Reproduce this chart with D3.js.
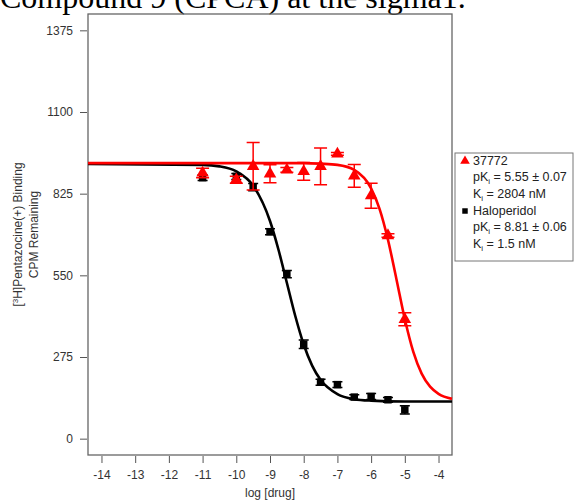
<!DOCTYPE html>
<html>
<head>
<meta charset="utf-8">
<script src="https://cdn.jsdelivr.net/npm/d3@7"></script>
<style>
  body { margin: 0; background: #fff; }
  svg { display: block; font-family: "Liberation Sans", Arial, sans-serif; }
</style>
</head>
<body>
<svg id="chart" width="574" height="502"></svg>
<script>
// log [drug] concentrations used for both compounds
var doses = [-11, -10, -9.5, -9, -8.5, -8, -7.5, -7, -6.5, -6, -5.5, -5];

// 37772 (red triangles)
var cpdMean = [895, 872, 917, 892, 905, 900, 917, 959, 885, 818, 684, 402];
var cpdSem  = [16, 12, 80, 30, 8, 30, 62, 5, 38, 42, 6, 22];

// Haloperidol (black squares)
var haloMean = [879, 883, 847, 697, 554, 318, 190, 182, 140, 142, 131, 97];
var haloSem  = [10, 10, 12, 10, 12, 14, 10, 10, 8, 10, 8, 14];

// fitted curves
var cpdFitX = [-14.4, -8, -7.5, -7, -6.5, -6, -5.75, -5.5, -5.25, -5, -4.75, -4.5, -4.25, -4, -3.6];
var cpdFitY = [928, 928, 926, 922, 905, 843, 774, 670, 538, 403, 293, 219, 175, 151, 134];
var haloFitX = [-14.4, -11, -10.5, -10, -9.5, -9, -8.75, -8.5, -8.25, -8, -7.75, -7.5, -7, -6.5, -6, -5, -3.6];
var haloFitY = [925, 922, 917, 900, 852, 733, 637, 525, 413, 317, 246, 198, 150, 133, 128, 125, 125];

var xTicks = [-14, -13, -12, -11, -10, -9, -8, -7, -6, -5, -4];
var yTicks = [0, 275, 550, 825, 1100, 1375];

var svg = d3.select('#chart');

// box of the plot region
var box = {left: 88, right: 452, top: 14, bottom: 455};

var x = d3.scaleLinear().domain([-14.4, -3.6]).range([box.left, box.right]);
var y = d3.scaleLinear().domain([-55, 1430]).range([box.bottom, box.top]);

// Title, cut off at the top of the picture (as in the source)
svg.append('text')
  .attr('x', 0)
  .attr('y', 8)
  .style('font-family', '"Liberation Serif", "Times New Roman", serif')
  .style('font-size', '32px')
  .attr('fill', '#000')
  .text('Compound 9 (CPCA) at the sigma1.');

// Axes
var yAxis = d3.axisLeft(y).tickValues(yTicks).tickFormat(d => String(d)).tickSize(7).tickPadding(7);
svg.append('g')
  .attr('transform', `translate(${box.left - 1}, 0)`)
  .call(yAxis)
  .call(g => g.select('.domain').remove())
  .call(g => g.selectAll('line').attr('stroke', '#555'))
  .call(g => g.selectAll('text').attr('fill', '#333').style('font-size', '12px'));

var xAxis = d3.axisBottom(x).tickValues(xTicks).tickFormat(d => String(d)).tickSize(7).tickPadding(7);
svg.append('g')
  .attr('transform', `translate(0, ${box.bottom + 1})`)
  .call(xAxis)
  .call(g => g.select('.domain').remove())
  .call(g => g.selectAll('line').attr('stroke', '#555'))
  .call(g => g.selectAll('text').attr('fill', '#333').style('font-size', '12px'));

svg.append('rect')
  .attr('x', box.left)
  .attr('y', box.top)
  .attr('width', box.right - box.left)
  .attr('height', box.bottom - box.top)
  .attr('fill', 'none')
  .attr('stroke', '#666')
  .attr('stroke-width', 1.3);

// Axis titles
svg.append('text')
  .attr('x', (box.left + box.right) / 2)
  .attr('y', 497)
  .attr('text-anchor', 'middle')
  .attr('fill', '#333')
  .style('font-size', '12px')
  .text('log [drug]');

var yt = svg.append('text')
  .attr('transform', `translate(22, ${(box.top + box.bottom) / 2}) rotate(-90)`)
  .attr('text-anchor', 'middle')
  .attr('fill', '#333')
  .style('font-size', '12px');
yt.append('tspan').text('[');
yt.append('tspan').attr('dy', -4).style('font-size', '8px').text('3');
yt.append('tspan').attr('dy', 4).text('H]Pentazocine(+) Binding');
svg.append('text')
  .attr('transform', `translate(38, ${(box.top + box.bottom) / 2}) rotate(-90)`)
  .attr('text-anchor', 'middle')
  .attr('fill', '#333')
  .style('font-size', '12px')
  .text('CPM Remaining');

// Curves
var line = d3.line()
  .curve(d3.curveMonotoneX)
  .x(d => x(d[0]))
  .y(d => y(d[1]));

var plot = svg.append('g');

function drawSeries(fitX, fitY, mean, sem, color, symbol, symSize, capW) {
  var fit = fitX.map((v, i) => [v, fitY[i]]);
  plot.append('path')
    .datum(fit)
    .attr('fill', 'none')
    .attr('stroke', color)
    .attr('stroke-width', 2.6)
    .attr('d', line);

  var pts = doses.map((d, i) => ({x: d, m: mean[i], s: sem[i]}));
  var g = plot.append('g');

  g.selectAll('.bar')
    .data(pts)
    .enter()
    .append('path')
    .attr('class', 'bar')
    .attr('fill', 'none')
    .attr('stroke', color)
    .attr('stroke-width', 1.5)
    .attr('d', d => {
      var cx = x(d.x), y1 = y(d.m + d.s), y2 = y(d.m - d.s);
      return `M${cx - capW / 2},${y1}H${cx + capW / 2}M${cx},${y1}V${y2}M${cx - capW / 2},${y2}H${cx + capW / 2}`;
    });

  g.selectAll('.pt')
    .data(pts)
    .enter()
    .append('path')
    .attr('class', 'pt')
    .attr('fill', color)
    .attr('transform', d => `translate(${x(d.x)}, ${y(d.m)})`)
    .attr('d', d3.symbol().type(symbol).size(symSize));
}

drawSeries(haloFitX, haloFitY, haloMean, haloSem, '#000', d3.symbolSquare, 56, 10);
drawSeries(cpdFitX, cpdFitY, cpdMean, cpdSem, '#ff0000', d3.symbolTriangle, 68, 13);

// Legend
var leg = svg.append('g').style('font-size', '12.5px');
leg.append('rect')
  .attr('x', 455)
  .attr('y', 153)
  .attr('width', 118)
  .attr('height', 108)
  .attr('fill', '#fff')
  .attr('stroke', '#777')
  .attr('stroke-width', 1);

var legendRows = [
  {sym: d3.symbolTriangle, color: '#ff0000', name: '37772', pk: '5.55 \u00b1 0.07', ki: '2804 nM'},
  {sym: d3.symbolSquare, color: '#000', name: 'Haloperidol', pk: '8.81 \u00b1 0.06', ki: '1.5 nM'}
];

legendRows.forEach((r, i) => {
  var top = 165 + i * 50;
  leg.append('path')
    .attr('transform', `translate(465, ${top - 4})`)
    .attr('fill', r.color)
    .attr('d', d3.symbol().type(r.sym).size(r.sym === d3.symbolSquare ? 30 : 40));
  leg.append('text').attr('x', 473).attr('y', top).attr('fill', '#222').text(r.name);

  var t2 = leg.append('text').attr('x', 473).attr('y', top + 16).attr('fill', '#222');
  t2.append('tspan').text('pK');
  t2.append('tspan').attr('dy', 3).style('font-size', '8px').text('i');
  t2.append('tspan').attr('dy', -3).text(' = ' + r.pk);

  var t3 = leg.append('text').attr('x', 473).attr('y', top + 33).attr('fill', '#222');
  t3.append('tspan').text('K');
  t3.append('tspan').attr('dy', 3).style('font-size', '8px').text('i');
  t3.append('tspan').attr('dy', -3).text(' = ' + r.ki);
});
</script>
</body>
</html>
